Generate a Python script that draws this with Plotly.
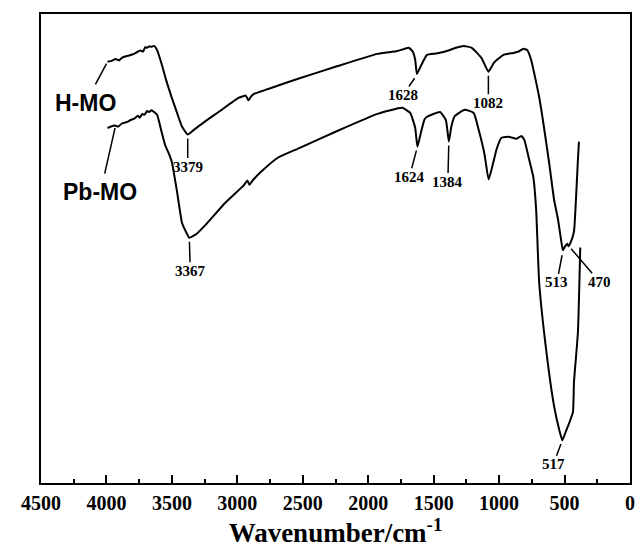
import plotly.graph_objects as go

# ---- data (wavenumber in cm-1, transmittance in arbitrary units) ----
h_wn = [3992, 3960, 3930, 3905, 3880, 3850, 3820, 3790, 3765, 3740, 3720, 3705, 3690, 3674, 3655, 3636,
        3613, 3580, 3545, 3505, 3469, 3423, 3379, 3332, 3241, 3143, 2991, 2935, 2915, 2895, 2870, 2764,
        2536, 2233, 1930, 1778, 1690, 1660, 1641, 1628, 1600, 1575, 1551, 1480, 1399, 1330, 1270, 1209,
        1134, 1082, 1040, 967, 891, 850, 815, 785, 755, 694, 618, 580, 550, 527, 513, 495, 480, 470,
        455, 428, 413, 398, 390]
h_t = [89.8, 90.0, 90.4, 90.1, 90.7, 91.0, 91.2, 91.5, 91.9, 92.2, 92.0, 92.9, 92.8, 93.1, 93.0, 93.2,
       92.3, 89.5, 86.0, 82.5, 79.6, 76.0, 74.3, 75.3, 77.2, 79.1, 82.1, 82.6, 81.6, 82.4, 83.0, 84.0,
       86.2, 88.9, 91.5, 92.1, 92.8, 92.0, 90.2, 87.2, 88.8, 90.2, 91.3, 91.6, 92.1, 92.8, 93.2, 92.8,
       90.6, 87.7, 89.6, 91.3, 91.7, 92.0, 92.6, 92.3, 90.2, 82.3, 68.3, 60.4, 56.2, 51.9, 49.6, 50.5,
       51.0, 50.5, 51.2, 53.6, 60.4, 68.9, 72.8]

pb_wn = [3992, 3965, 3939, 3910, 3885, 3863, 3840, 3815, 3787, 3760, 3745, 3727, 3710, 3690, 3674, 3655,
         3636, 3613, 3580, 3552, 3520, 3499, 3460, 3423, 3393, 3367, 3317, 3241, 3090, 2953, 2923, 2908,
         2880, 2817, 2688, 2536, 2233, 1930, 1740, 1679, 1641, 1624, 1595, 1570, 1551, 1452, 1407, 1384,
         1365, 1340, 1263, 1194, 1156, 1111, 1080, 1043, 1020, 982, 921, 868, 830, 808, 770, 739, 717,
         694, 641, 580, 542, 517, 490, 474, 436, 428, 398, 380]
pb_t = [75.7, 76.0, 76.2, 76.0, 76.6, 76.8, 77.0, 77.4, 77.7, 78.3, 77.9, 78.7, 78.5, 79.3, 79.1, 79.5,
        79.1, 78.5, 75.0, 72.1, 70.0, 68.3, 62.0, 55.5, 53.6, 52.3, 53.0, 55.1, 59.8, 63.4, 64.5, 63.6,
        64.6, 66.4, 69.4, 71.3, 75.1, 78.7, 80.0, 78.9, 75.7, 71.7, 75.0, 77.5, 78.1, 79.1, 77.4, 72.8,
        76.0, 78.2, 79.6, 78.9, 75.3, 70.0, 64.7, 68.5, 71.1, 73.6, 73.8, 73.4, 74.0, 73.2, 68.9, 65.3,
        58.3, 42.8, 28.5, 16.4, 11.5, 9.1, 11.0, 12.1, 15.1, 21.5, 32.1, 50.2]

# peak labels: (wavenumber, transmittance at leader start, text)
peak_wn = [3379, 1628, 1082, 513, 470, 3367, 1624, 1384, 517]
peak_t = [74.3, 87.0, 87.7, 49.4, 50.6, 52.3, 71.7, 72.8, 9.1]
peak_txt = ["3379", "1628", "1082", "513", "470", "3367", "1624", "1384", "517"]
peak_ax = [0, -14, 0, -6, 31, 1, -8, -1, -9]
peak_ay = [32, 20, 31, 31, 36, 33, 30, 40, 24]

series_names = ["H-MO", "Pb-MO"]
series_lab_wn = [3992, 3931]
series_lab_t = [89.8, 76.1]
series_ax = [-22, -15]
series_ay = [41, 66]

x_ticks = [0, 500, 1000, 1500, 2000, 2500, 3000, 3500, 4000, 4500]

fig = go.Figure()
for wn, t in ((h_wn, h_t), (pb_wn, pb_t)):
    fig.add_trace(go.Scatter(x=wn, y=t, mode="lines",
                             line=dict(color="black", width=2, shape="spline", smoothing=0.4),
                             showlegend=False, hoverinfo="skip"))

serif = "Liberation Serif, Times New Roman, serif"
sans = "Liberation Sans, Arial, sans-serif"

for w, t, s, ax, ay in zip(peak_wn, peak_t, peak_txt, peak_ax, peak_ay):
    fig.add_annotation(x=w, y=t, text=s, showarrow=True, arrowhead=0, arrowwidth=1.5,
                       arrowcolor="black", ax=ax, ay=ay, standoff=4, borderpad=0,
                       font=dict(family=serif, size=15, color="black", weight="bold"))

for w, t, s, ax, ay in zip(series_lab_wn, series_lab_t, series_names, series_ax, series_ay):
    fig.add_annotation(x=w, y=t, text=s, showarrow=True, arrowhead=0, arrowwidth=1.5,
                       arrowcolor="black", ax=ax, ay=ay, standoff=2, borderpad=5,
                       font=dict(family=sans, size=23, color="black", weight="bold"))

fig.update_layout(
    width=643, height=551,
    margin=dict(l=41, r=8, t=14, b=67),
    paper_bgcolor="white", plot_bgcolor="white",
    xaxis=dict(range=[4500, 0], tickvals=x_ticks, ticks="inside", ticklen=8, tickwidth=1.5,
               tickcolor="black",
               minor=dict(dtick=250, ticks="inside", ticklen=4, tickwidth=1.5, tickcolor="black"),
               showline=True, linecolor="black", linewidth=2, mirror=True,
               showgrid=False, zeroline=False,
               tickfont=dict(family=serif, size=20, color="black", weight="bold"),
               ticklabelstandoff=1,
               title=dict(text="Wavenumber/cm<sup>-1</sup>", standoff=10,
                          font=dict(family=serif, size=27, color="black", weight="bold"))),
    yaxis=dict(range=[0, 100], showticklabels=False, ticks="", showgrid=False, zeroline=False,
               showline=True, linecolor="black", linewidth=2, mirror=True),
)

fig.write_html("out.html")
